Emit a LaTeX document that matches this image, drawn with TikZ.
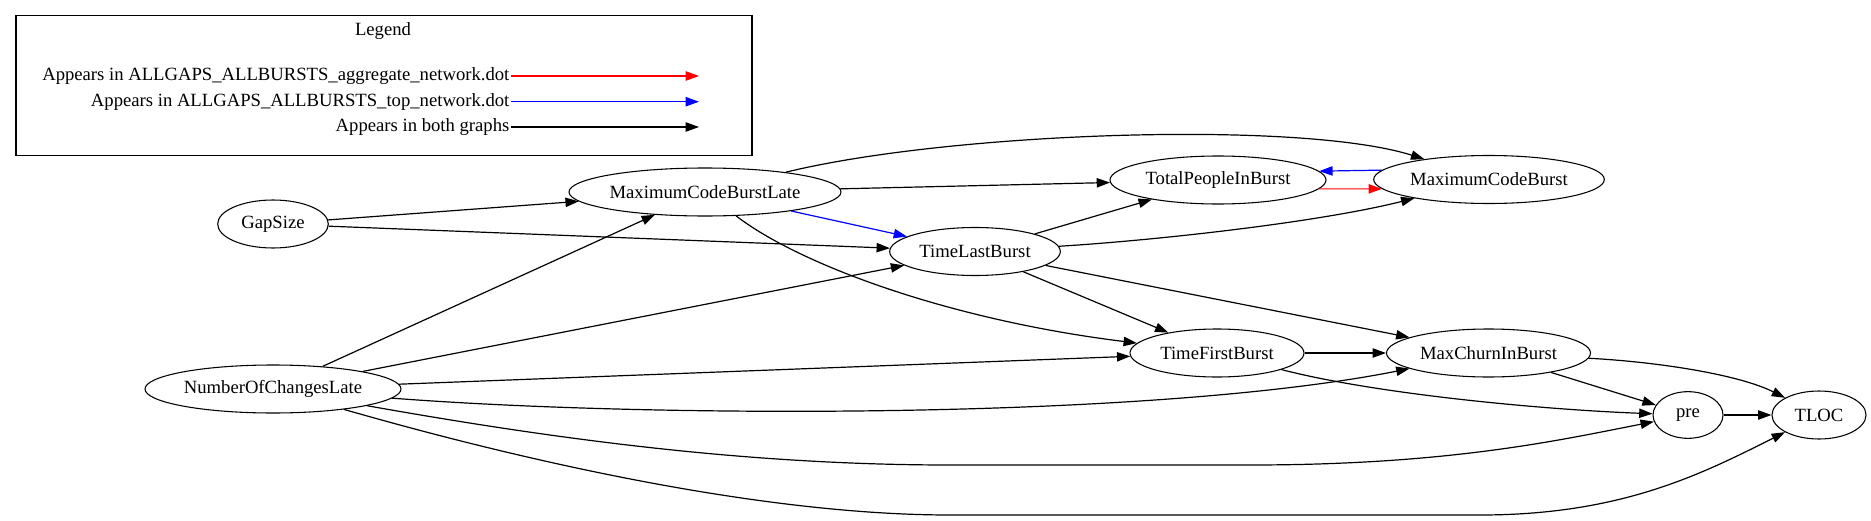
\documentclass[tikz,border=0pt]{standalone}
\usepackage{fontspec}
\setmainfont{Liberation Serif}
\usetikzlibrary{shapes.geometric,arrows.meta}
\begin{document}
\begin{tikzpicture}[x=0.75pt,y=-0.75pt,
  font=\fontsize{14pt}{16pt}\selectfont,
  gnode/.style={draw, ellipse, inner sep=0pt, minimum height=36pt, line width=0.8pt},
  edge/.style={line width=0.9pt, -{Triangle[length=10pt,width=7pt]}},
  legtext/.style={anchor=east, inner sep=1pt}
]
\useasboundingbox (0,0) rectangle (1871,521);

% legend
\node[draw, line width=0.8pt, minimum width=552pt, minimum height=105pt, inner sep=0pt] (legendbox) at (384,85.7) {};
\node (legendtitle) at (383,30.7) {Legend};
\node[legtext] (l1) at (511,76) {Appears in ALLGAPS\_ALLBURSTS\_aggregate\_network.dot};
\node[legtext] (l2) at (511,101.7) {Appears in ALLGAPS\_ALLBURSTS\_top\_network.dot};
\node[legtext] (l3) at (511,127) {Appears in both graphs};
\coordinate (l1e) at (699,76);
\coordinate (l2e) at (699,101.7);
\coordinate (l3e) at (699,127);
\draw[edge, red] (l1) -- (l1e);
\draw[edge, blue] (l2) -- (l2e);
\draw[edge] (l3) -- (l3e);

% nodes
\node[gnode, minimum width=83pt] (gap) at (273,224) {GapSize};
\node[gnode, minimum width=204pt] (mcbl) at (705,192) {MaximumCodeBurstLate};
\node[gnode, minimum width=162pt] (tpib) at (1218,180) {TotalPeopleInBurst};
\node[gnode, minimum width=173pt] (mcb) at (1489,179.5) {MaximumCodeBurst};
\node[gnode, minimum width=128pt] (tlb) at (975,251.5) {TimeLastBurst};
\node[gnode, minimum width=130.5pt] (tfb) at (1217,353) {TimeFirstBurst};
\node[gnode, minimum width=153pt] (mcib) at (1488.5,353) {MaxChurnInBurst};
\node[gnode, minimum width=192pt] (nocl) at (273,389) {NumberOfChangesLate};
\node[gnode, minimum width=52.5pt, minimum height=35pt] (pre) at (1688,415) {pre};
\node[gnode, minimum width=70.5pt] (tloc) at (1819,415) {TLOC};

% edges
\draw[edge] (gap) -- (mcbl);
\draw[edge] (gap) -- (tlb);
\draw[edge] (mcbl) .. controls (950,132) and (1300,120) .. (mcb);
\draw[edge] (mcbl) -- (tpib);
\draw[edge, blue] (mcbl) -- (tlb);
\draw[edge] (mcbl) .. controls (800,265) and (950,320) .. (tfb);
\draw[edge, red] (tpib.-5) -- (mcb.185);
\draw[edge, blue] (mcb.175) -- (tpib.5);
\draw[edge] (tlb) -- (tpib);
\draw[edge] (tlb) .. controls (1160,240) and (1320,222) .. (mcb);
\draw[edge] (tlb) -- (tfb);
\draw[edge] (tlb) -- (mcib);
\draw[edge] (nocl) -- (mcbl);
\draw[edge] (nocl) -- (tlb);
\draw[edge] (nocl) -- (tfb);
\draw[edge] (nocl) .. controls (650,418) and (1150,420) .. (mcib);
\draw[edge] (nocl) .. controls (560,440) and (750,465) .. (950,465) -- (1250,465) .. controls (1450,465) and (1560,440) .. (pre);
\draw[edge] (nocl) .. controls (520,460) and (760,515) .. (950,515) -- (1480,515) .. controls (1620,515) and (1700,475) .. (tloc);
\draw[edge] (tfb) -- (mcib);
\draw[edge] (tfb) .. controls (1380,395) and (1550,410) .. (pre);
\draw[edge] (mcib) -- (pre);
\draw[edge] (mcib) .. controls (1660,362) and (1740,375) .. (tloc);
\draw[edge] (pre) -- (tloc);
\end{tikzpicture}
\end{document}
